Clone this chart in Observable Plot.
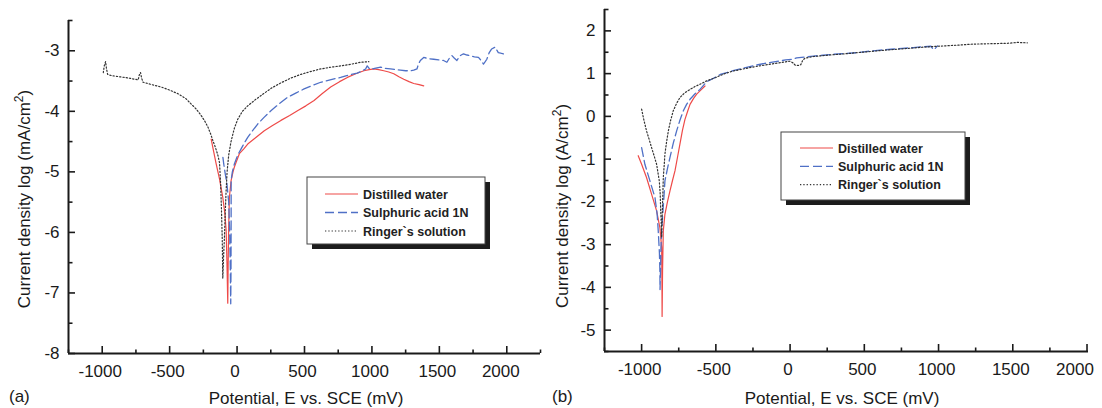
<!DOCTYPE html>
<html><head><meta charset="utf-8">
<script src="https://cdn.jsdelivr.net/npm/d3@7"></script>
<script src="https://cdn.jsdelivr.net/npm/@observablehq/plot@0.6"></script>
<style>
body{margin:0;background:#fff;}
#wrap{position:relative;width:1102px;height:408px;overflow:hidden;font-family:"Liberation Sans",Arial,sans-serif;}
#wrap svg{position:absolute;top:0;}
</style></head><body><div id="wrap"></div>
<script>
// ---------- shared ----------
const seriesNames = ["Distilled water", "Sulphuric acid 1N", "Ringer`s solution"];
const xMajor = [-1000, -500, 0, 500, 1000, 1500, 2000];
const xMinorA = [-1250, -750, -250, 250, 750, 1250, 1750, 2250];
const xMinorB = [-1250, -750, -250, 250, 750, 1250, 1750];

// ---------- panel (a) ----------
const aYMajor = [-3, -4, -5, -6, -7, -8];
const aYMinor = [-2.5, -3.5, -4.5, -5.5, -6.5, -7.5];

const aWaterE = [-192,-175,-155,-130,-106,-90,-81,-75,-69,-66,-62,-57,-44,-30,-20,-7,17,50,79,130,202,260,325,390,448,510,571,630,694,760,818,880,940,980,1014,1050,1088,1125,1162,1200,1236,1275,1310,1350,1384];
const aWaterI = [-4.46,-4.65,-4.87,-5.12,-5.42,-5.7,-5.97,-6.5,-7.17,-6.5,-5.9,-5.42,-5.14,-5.0,-4.92,-4.84,-4.70,-4.62,-4.54,-4.45,-4.32,-4.24,-4.15,-4.07,-3.99,-3.91,-3.82,-3.71,-3.60,-3.51,-3.44,-3.38,-3.33,-3.31,-3.30,-3.31,-3.33,-3.35,-3.38,-3.43,-3.47,-3.51,-3.54,-3.56,-3.58];

const aAcidE = [-105,-100,-90,-75,-62,-55,-50,-47,-45,-44,-44,-35,-20,5,30,55,79,115,153,200,251,310,374,435,497,560,620,690,768,830,891,930,953,965,975,990,1020,1064,1100,1137,1175,1211,1250,1285,1310,1334,1345,1359,1384,1420,1458,1495,1531,1556,1575,1593,1610,1630,1655,1679,1705,1728,1760,1790,1810,1827,1840,1852,1870,1888,1913,1937,1955,1975];
const aAcidI = [-4.76,-4.85,-5.0,-5.2,-5.5,-6.0,-6.6,-7.18,-6.6,-5.7,-5.14,-5.0,-4.87,-4.72,-4.62,-4.52,-4.43,-4.32,-4.21,-4.10,-3.99,-3.88,-3.77,-3.70,-3.63,-3.57,-3.52,-3.48,-3.44,-3.40,-3.37,-3.33,-3.30,-3.25,-3.28,-3.31,-3.29,-3.27,-3.29,-3.30,-3.31,-3.32,-3.33,-3.33,-3.32,-3.30,-3.22,-3.16,-3.11,-3.13,-3.14,-3.15,-3.16,-3.19,-3.12,-3.08,-3.12,-3.16,-3.08,-3.05,-3.07,-3.08,-3.10,-3.11,-3.16,-3.22,-3.18,-3.14,-3.03,-2.97,-2.94,-3.03,-3.04,-3.05];

const aRingerE = [-992,-985,-975,-968,-960,-931,-870,-807,-733,-725,-716,-708,-697,-630,-561,-500,-438,-380,-340,-300,-266,-240,-216,-195,-180,-160,-143,-130,-122,-116,-110,-106,-100,-94,-88,-82,-74,-62,-45,-20,5,40,79,140,202,260,325,400,473,550,620,700,768,850,916,977];
const aRingerI = [-3.36,-3.25,-3.18,-3.30,-3.39,-3.41,-3.43,-3.45,-3.48,-3.40,-3.36,-3.45,-3.52,-3.56,-3.60,-3.65,-3.71,-3.79,-3.88,-3.97,-4.07,-4.16,-4.26,-4.38,-4.48,-4.60,-4.72,-4.85,-5.2,-5.6,-6.1,-6.76,-6.4,-6.1,-5.7,-5.35,-5.0,-4.72,-4.5,-4.28,-4.13,-4.0,-3.91,-3.80,-3.70,-3.61,-3.53,-3.45,-3.39,-3.34,-3.30,-3.27,-3.25,-3.22,-3.19,-3.18];

// ---------- panel (b) ----------
const bYMajor = [2, 1, 0, -1, -2, -3, -4, -5];
const bYMinor = [2.5, 1.5, 0.5, -0.5, -1.5, -2.5, -3.5, -4.5, -5.5];

const bWaterE = [-1023,-1000,-967,-933,-899,-877,-865,-863,-862,-859,-854,-843,-826,-809,-792,-775,-758,-742,-725,-708,-690,-674,-650,-629,-600,-573];
const bWaterI = [-0.92,-1.12,-1.43,-1.82,-2.21,-2.60,-3.07,-3.9,-4.68,-3.61,-2.68,-2.29,-2.0,-1.74,-1.5,-1.27,-0.95,-0.65,-0.33,-0.07,0.12,0.28,0.42,0.52,0.62,0.71];

const bAcidE = [-1000,-978,-944,-910,-895,-888,-880,-877,-876,-872,-870,-865,-859,-850,-843,-826,-809,-787,-764,-742,-719,-697,-674,-640,-607,-562,-500,-470,-384,-300,-241,-170,-98,-30,20,44,100,157,220,281,360,450,519,607,680,756,830,900,950,965,975,993];
const bAcidI = [-0.73,-1.12,-1.51,-1.90,-2.3,-2.68,-3.2,-3.6,-4.05,-3.5,-3.07,-2.7,-2.36,-1.9,-1.51,-1.22,-0.96,-0.63,-0.34,-0.09,0.13,0.28,0.40,0.53,0.63,0.81,0.92,0.98,1.07,1.14,1.19,1.24,1.28,1.32,1.34,1.37,1.39,1.41,1.43,1.45,1.47,1.49,1.52,1.55,1.57,1.59,1.61,1.63,1.64,1.56,1.58,1.65];

const bRingerE = [-1000,-985,-967,-950,-933,-916,-899,-881,-875,-872,-868,-865,-862,-859,-856,-854,-848,-843,-832,-820,-805,-787,-765,-742,-710,-674,-640,-607,-562,-500,-440,-384,-300,-241,-170,-98,-40,0,20,34,55,72,85,100,157,220,281,360,450,519,607,680,756,830,900,993,1100,1231,1350,1468,1530,1598];
const bRingerI = [0.17,-0.08,-0.34,-0.53,-0.73,-0.92,-1.12,-1.51,-1.8,-2.13,-2.5,-2.83,-2.4,-2.05,-1.7,-1.43,-1.15,-0.88,-0.6,-0.34,-0.1,0.13,0.30,0.44,0.55,0.63,0.70,0.75,0.83,0.91,1.00,1.06,1.12,1.16,1.20,1.24,1.27,1.29,1.25,1.20,1.19,1.21,1.31,1.36,1.40,1.42,1.44,1.46,1.49,1.51,1.54,1.56,1.58,1.60,1.62,1.64,1.66,1.69,1.70,1.71,1.73,1.72];

// ---------- styles ----------
const lineStyles = [
  {stroke: "#ee4a48", strokeWidth: 1.2, strokeDasharray: null},
  {stroke: "#4f70c6", strokeWidth: 1.3, strokeDasharray: "9,4"},
  {stroke: "#333333", strokeWidth: 1.2, strokeDasharray: "1.3,2"}
];
const FONT = '"Liberation Sans", Arial, sans-serif';

function zip(E, I) { return E.map((e, i) => ({E: e, I: I[i]})); }

function panel(cfg) {
  const innerH = cfg.height - cfg.marginTop - cfg.marginBottom;
  const innerW = cfg.width - cfg.marginLeft - cfg.marginRight;
  const ink = "#1a1a1a";
  const mainTicks = xMajor.filter(t => !cfg.shiftTicks.includes(t));
  const marks = [
    Plot.axisX({ticks: mainTicks, tickSize: 0, tickPadding: 11, tickFormat: d => String(d), label: null, fontSize: 17, dx: -2}),
    Plot.axisX({ticks: cfg.shiftTicks, tickSize: 0, tickPadding: 11, tickFormat: d => String(d), label: null, fontSize: 17, dx: cfg.shiftDx}),
    Plot.axisY({ticks: cfg.yMajor, tickSize: 0, tickPadding: 9, tickFormat: d => String(d), label: null, fontSize: 17}),
    Plot.tickX(xMajor, {x: d => d, stroke: ink, strokeWidth: 1.6, insetTop: innerH - 7}),
    Plot.tickX(cfg.xMinor, {x: d => d, stroke: ink, strokeWidth: 1.6, insetTop: innerH - 3.5}),
    Plot.tickY(cfg.yMajor, {y: d => d, stroke: ink, strokeWidth: 1.6, insetRight: innerW - 7}),
    Plot.tickY(cfg.yMinor, {y: d => d, stroke: ink, strokeWidth: 1.6, insetRight: innerW - 4.5}),
    Plot.ruleY([cfg.yDomain[0]], {stroke: ink, strokeWidth: 2}),
    Plot.ruleX([cfg.xDomain[0]], {stroke: ink, strokeWidth: 2})
  ];
  cfg.series.forEach((s, k) => {
    marks.push(Plot.line(s, {x: "E", y: "I", ...lineStyles[k], curve: "linear"}));
  });
  const svg = Plot.plot({
    width: cfg.width, height: cfg.height,
    marginLeft: cfg.marginLeft, marginRight: cfg.marginRight,
    marginTop: cfg.marginTop, marginBottom: cfg.marginBottom,
    x: {domain: cfg.xDomain},
    y: {domain: cfg.yDomain},
    style: {fontFamily: FONT, fontSize: "17px", color: ink, background: "transparent", overflow: "visible"},
    marks
  });
  svg.style.left = cfg.left + "px";
  const g = d3.select(svg);
  // x title
  g.append("text").attr("x", cfg.xTitle[0]).attr("y", cfg.xTitle[1])
    .attr("text-anchor", "middle").attr("font-size", 17).attr("fill", ink)
    .text("Potential, E vs. SCE (mV)");
  // panel letter
  g.append("text").attr("x", cfg.letter[0]).attr("y", cfg.letter[1]).attr("text-anchor", "start")
    .attr("font-size", 17).attr("fill", ink).text(cfg.letterText);
  // y title with superscript
  const yt = g.append("text").attr("transform", `translate(${cfg.yTitle[0]},${cfg.yTitle[1]}) rotate(-90)`)
    .attr("text-anchor", "middle").attr("dy", "0.35em").attr("font-size", 17).attr("fill", ink);
  yt.append("tspan").text(cfg.yTitleText);
  yt.append("tspan").attr("font-size", 12).attr("dy", -7).text("2");
  yt.append("tspan").attr("dy", 7).text(")");
  // legend
  const L = cfg.legend;
  const lg = g.append("g").attr("transform", `translate(${L.x},${L.y})`);
  lg.append("rect").attr("x", 5).attr("y", 5).attr("width", L.w).attr("height", L.h).attr("fill", "#1c1c1c");
  lg.append("rect").attr("x", 0).attr("y", 0).attr("width", L.w).attr("height", L.h)
    .attr("fill", "white").attr("stroke", "#444").attr("stroke-width", 1);
  seriesNames.forEach((name, k) => {
    const yy = L.row0 + k * L.dy;
    const st = lineStyles[k];
    const ln = lg.append("line").attr("x1", L.lx0).attr("x2", L.lx1).attr("y1", yy).attr("y2", yy)
      .attr("fill", "none").attr("stroke", st.stroke).attr("stroke-width", st.strokeWidth);
    if (st.strokeDasharray) ln.attr("stroke-dasharray", st.strokeDasharray);
    lg.append("text").attr("x", L.tx).attr("y", yy + 4.5).attr("text-anchor", "start")
      .attr("font-size", 12.5).attr("font-weight", "bold").attr("fill", "#222").text(name);
  });
  document.getElementById("wrap").appendChild(svg);
}

panel({
  left: 0, width: 551, height: 408,
  marginLeft: 68, marginRight: 11, marginTop: 20, marginBottom: 55,
  xDomain: [-1250, 2250], yDomain: [-8, -2.5],
  xMinor: xMinorA, yMajor: aYMajor, yMinor: aYMinor,
  shiftTicks: [2000], shiftDx: -6,
  series: [zip(aWaterE, aWaterI), zip(aAcidE, aAcidI), zip(aRingerE, aRingerI)],
  xTitle: [306, 404], letter: [9, 402], letterText: "(a)",
  yTitle: [24, 199], yTitleText: "Current density log (mA/cm",
  legend: {x: 307, y: 177, w: 178, h: 67, row0: 17, dy: 18.5, lx0: 18, lx1: 51, tx: 56}
});

panel({
  left: 551, width: 551, height: 408,
  marginLeft: 53, marginRight: 14, marginTop: 9, marginBottom: 57,
  xDomain: [-1250, 2010], yDomain: [-5.5, 2.5],
  xMinor: xMinorB, yMajor: bYMajor, yMinor: bYMinor,
  shiftTicks: [2000], shiftDx: -12,
  series: [zip(bWaterE, bWaterI), zip(bAcidE, bAcidI), zip(bRingerE, bRingerI)],
  xTitle: [291, 404], letter: [1, 402], letterText: "(b)",
  yTitle: [11, 206], yTitleText: "Current density log (A/cm",
  legend: {x: 230, y: 132, w: 184, h: 68, row0: 16, dy: 18.3, lx0: 19, lx1: 52, tx: 57}
});
</script>
</body></html>
